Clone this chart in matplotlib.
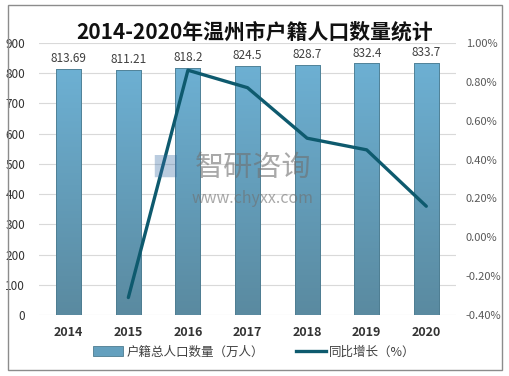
import numpy as np
import matplotlib.pyplot as plt
from matplotlib.patches import Rectangle
from matplotlib.lines import Line2D
from matplotlib.colors import LinearSegmentedColormap

plt.rcParams['font.family'] = ['Noto Sans CJK SC', 'DejaVu Sans']

years = ['2014', '2015', '2016', '2017', '2018', '2019', '2020']
population = [813.69, 811.21, 818.2, 824.5, 828.7, 832.4, 833.7]
pop_labels = ['813.69', '811.21', '818.2', '824.5', '828.7', '832.4', '833.7']
growth = [None, -0.31, 0.86, 0.77, 0.51, 0.45, 0.16]  # percent

fig = plt.figure(figsize=(5.09, 3.76), dpi=100)
ax = fig.add_axes([0.0766, 0.1622, 0.8194, 0.7234])
ax2 = ax.twinx()

x = np.arange(len(years))
bw = 0.42
cmap = LinearSegmentedColormap.from_list('bar', ['#5a8aa0', '#6db0d3'])
grad = np.linspace(0, 1, 256).reshape(-1, 1)
bars = ax.bar(x, population, width=bw, color='none', edgecolor='none', zorder=2)
for b in bars:
    x0, w, h = b.get_x(), b.get_width(), b.get_height()
    im = ax.imshow(grad, cmap=cmap, origin='lower', aspect='auto',
                   extent=[x0, x0 + w, 0, h], zorder=2)
    im.set_clip_path(b)
    ax.add_patch(Rectangle((x0, 0), w, h, fill=False, edgecolor='#4d7c90',
                           linewidth=0.6, zorder=3))

for xi, v, s in zip(x, population, pop_labels):
    ax.text(xi, v + 12, s, ha='center', va='bottom', fontsize=8.5, color='#404040')

ax.set_xlim(-0.5, len(years) - 0.5)
ax.set_ylim(0, 900)
ax.set_yticks(range(0, 901, 100))
ax.set_xticks(x)
ax.set_xticklabels(years, fontsize=9, fontweight='bold', color='#333333')
ax.tick_params(axis='y', labelsize=8.5, colors='#333333', length=0, pad=10)
ax.tick_params(axis='x', length=0, pad=8)
ax.grid(axis='y', color='#d9d9d9', linewidth=0.8, zorder=0)
ax.set_axisbelow(True)
for sp in ax.spines.values():
    sp.set_visible(False)
for sp in ax2.spines.values():
    sp.set_visible(False)

gx = [xi for xi, g in zip(x, growth) if g is not None]
gy = [g for g in growth if g is not None]
ax2.plot(gx, gy, color='#0e5a6e', linewidth=2.4, solid_capstyle='round', zorder=5)
ax2.set_ylim(-0.4, 1.0)
ax2.set_yticks(np.arange(-0.4, 1.01, 0.2))
ax2.set_yticklabels(['%.2f%%' % v for v in np.arange(-0.4, 1.01, 0.2)])
ax2.tick_params(axis='y', labelsize=8, colors='#595959', length=0, pad=7)

# watermark
fig.text(0.324, 0.55, '■', fontsize=20, color='#3a6ea5', alpha=0.35, ha='center', va='center')
fig.text(0.497, 0.553, '智研咨询', fontsize=21, color='#707070', alpha=0.6, ha='center', va='center')
fig.text(0.497, 0.473, 'www.chyxx.com', fontsize=11.5, color='#707070', alpha=0.6, ha='center', va='center')

fig.text(0.5, 0.915, '2014-2020年温州市户籍人口数量统计', fontsize=15, fontweight='bold',
         ha='center', va='center', color='#111111')

handles = [Rectangle((0, 0), 1, 1, facecolor='#64a0be', edgecolor='#4d7c90', linewidth=0.6),
           Line2D([0], [0], color='#0e5a6e', linewidth=2.4)]
fig.legend(handles, ['户籍总人口数量（万人）', '同比增长（%）'], loc='center',
           bbox_to_anchor=(0.5, 0.064), ncol=2, frameon=False, fontsize=9,
           handlelength=2.4, handleheight=0.8, columnspacing=2.5, handletextpad=0.3,
           labelcolor='#404040')

fig.patches.append(Rectangle((0.016, 0.016), 0.970, 0.972, transform=fig.transFigure,
                             fill=False, edgecolor='#8c8c8c', linewidth=1.0))

fig.savefig('out.png', dpi=100)
